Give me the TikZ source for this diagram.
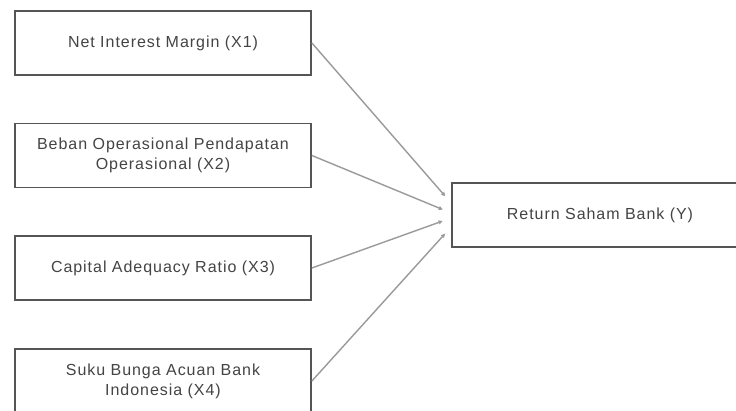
\documentclass[tikz,border=0pt]{standalone}
\usepackage{fontspec}
\newfontfamily\boxfont{Liberation Sans}[LetterSpace=6]
\usetikzlibrary{arrows.meta}
\definecolor{boxline}{HTML}{555555}
\definecolor{boxtext}{HTML}{444444}
\definecolor{linkgray}{HTML}{9A9A9A}

\tikzset{
  var/.style={draw=boxline, line width=1.8pt, minimum width=296pt, minimum height=64pt,
    align=center, text=boxtext, font=\boxfont\fontsize{16}{20}\selectfont},
  link/.style={draw=linkgray, line width=1.4pt, shorten >=9pt,
    -{Triangle[length=4pt,width=4pt]}}
}

\begin{document}
\begin{tikzpicture}[x=1pt, y=-1pt]
\fill[white] (0,0) rectangle (736,411);
\useasboundingbox (0,0) rectangle (736,411);

\node[var] (x1) at (163,43) {Net Interest Margin (X1)};
\node[var] (x2) at (163,155.5) {Beban Operasional Pendapatan\\Operasional (X2)};
\node[var] (x3) at (163,268) {Capital Adequacy Ratio (X3)};
\node[var] (x4) at (163,381) {Suku Bunga Acuan Bank\\Indonesia (X4)};

\node[var] (ret) at (600,215) {Return Saham Bank (Y)};

\foreach \i/\s in {1/12, 2/2, 3/-3, 4/-12}
    \draw[link] (x\i.east) -- ([yshift=\s pt]ret.west);
%
\end{tikzpicture}
\end{document}
